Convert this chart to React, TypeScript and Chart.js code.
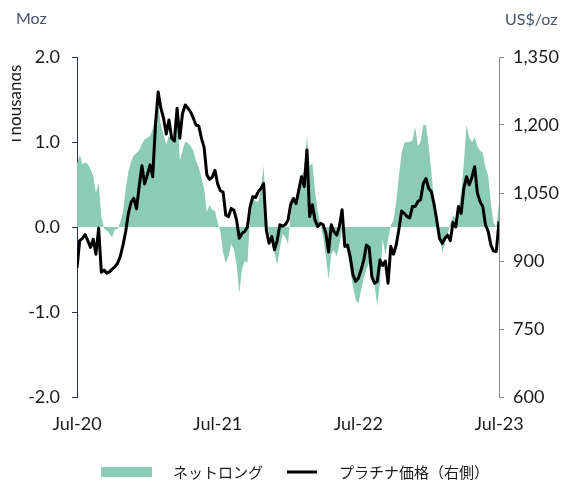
import { useEffect, useRef } from "react";
import { Chart, registerables } from "chart.js";

Chart.register(...registerables);

// Weekly observations, Jul-2020 .. Jul-2023 (week index 0..156)
const xTickLabels = ["Jul-20", "Jul-21", "Jul-22", "Jul-23"];
const xTickWeeks = [0, 52, 104, 156];

const seriesNames = ["ネットロング", "プラチナ価格（右側）"];
const leftUnit = "Moz";
const leftTitle = "Thousands";
const rightUnit = "US$/oz";

// Net long position (Moz), left axis
const netLong = [
  0.74, 0.85, 0.74, 0.76, 0.74, 0.68, 0.6, 0.4, 0.52, 0.12,
  -0.02, -0.04, -0.08, -0.12, -0.03, -0.02, 0.05, 0.18, 0.45, 0.65,
  0.77, 0.84, 0.87, 0.9, 0.98, 1.03, 1.05, 1.07, 1.15, 1.3,
  1.45, 1.2, 1.08, 0.97, 1.08, 1.02, 0.99, 1.4, 0.78, 0.9,
  1.0, 0.99, 0.95, 0.9, 0.78, 0.7, 0.58, 0.45, 0.18, 0.26,
  0.2, 0.19, 0.05, -0.05, -0.3, -0.42, -0.35, -0.2, -0.26, -0.45,
  -0.78, -0.5, -0.4, -0.42, 0.1, 0.35, 0.3, 0.3, 0.45, 0.72,
  0.1, -0.08, -0.18, -0.3, -0.45, -0.25, -0.08, -0.12, -0.2, 0.15,
  0.36, 0.32, 0.45, 0.6, 0.68, 1.07, 0.72, 0.75, 0.42, 0.18,
  0.02, -0.12, -0.35, -0.62, -0.32, -0.27, -0.35, -0.2, -0.03, -0.12,
  -0.3, -0.5, -0.7, -0.85, -0.9, -0.75, -0.6, -0.5, -0.42, -0.55,
  -0.68, -0.93, -0.65, -0.15, -0.32, -0.15, 0.02, 0.08, 0.3, 0.6,
  0.87, 0.99, 1.0, 1.0, 1.02, 1.18, 0.95, 1.0, 1.2, 1.2,
  0.95, 0.65, 0.3, 0.1, -0.05, -0.3, -0.2, -0.1, 0.05, 0.13,
  0.1, 0.2, 0.4, 0.75, 1.2, 1.05, 1.0, 1.06, 0.95, 0.9,
  0.87, 0.7, 0.6, 0.28, 0.05, 0.0, 0.28,
];

// Platinum price (US$/oz), right axis
const platinumPrice = [
  885, 945, 950, 958, 945, 930, 948, 915, 972, 875,
  880, 873, 876, 882, 887, 895, 910, 935, 965, 1005,
  1030, 1038, 1015, 1065, 1110, 1070, 1090, 1112, 1086, 1200,
  1273, 1237, 1215, 1180, 1211, 1171, 1165, 1237, 1171, 1225,
  1244, 1237, 1229, 1215, 1200, 1198, 1171, 1150, 1090, 1080,
  1085, 1100, 1070, 1055, 1052, 1001, 998, 1016, 1012, 990,
  950, 961, 965, 975, 1020, 1042, 1040, 1053, 1060, 1071,
  968, 939, 954, 925, 945, 980, 977, 980, 990, 1025,
  1038, 1027, 1057, 1086, 1064, 1145, 998, 1024, 990, 976,
  983, 980, 961, 920, 980, 965, 957, 976, 1013, 932,
  935, 909, 870, 855, 862, 880, 902, 935, 930, 865,
  851, 855, 902, 890, 900, 851, 932, 915, 935, 970,
  1010, 1005, 998, 995, 1020, 1020, 1031, 1035, 1071, 1082,
  1060, 1053, 1025, 990, 950, 939, 950, 957, 945, 985,
  975, 1020, 1005, 1060, 1086, 1068, 1085, 1108, 1050, 1031,
  1020, 980, 965, 935, 922, 921, 987,
];

const GREEN = "#8ccbb5";
const TICK_FONT = { family: "Lato", size: 18 };

const overlayPlugin = {
  id: "overlayTexts",
  afterDraw(chart: any) {
    const ctx = chart.ctx as CanvasRenderingContext2D;
    ctx.save();
    ctx.textBaseline = "middle";
    ctx.textAlign = "left";
    ctx.font = "16px Lato";
    ctx.fillStyle = "#44546a";
    ctx.fillText(leftUnit, 16, 19);
    ctx.fillText(rightUnit, 505, 20);

    // clipped, rotated left-axis title
    ctx.save();
    ctx.beginPath();
    ctx.rect(12, 0, 30, 482);
    ctx.clip();
    ctx.translate(21, 105);
    ctx.rotate(-Math.PI / 2);
    ctx.textAlign = "center";
    ctx.textBaseline = "alphabetic";
    ctx.font = "17px Lato";
    ctx.fillStyle = "#1a1a1a";
    ctx.fillText(leftTitle, 0, 0);
    ctx.restore();

    // legend
    const ds = chart.data.datasets;
    const area = ds.find((d: any) => d.yAxisID === "y");
    const line = ds.find((d: any) => d.yAxisID === "y1");
    const ly = 472;
    ctx.font = '15px "Noto Sans CJK JP"';
    ctx.fillStyle = area.backgroundColor;
    ctx.fillRect(101, 467, 51, 10);
    ctx.fillStyle = "#1a1a1a";
    ctx.textBaseline = "middle";
    ctx.fillText(area.label, 173, ly);
    ctx.strokeStyle = line.borderColor;
    ctx.lineWidth = 3;
    ctx.beginPath();
    ctx.moveTo(287, ly);
    ctx.lineTo(317, ly);
    ctx.stroke();
    ctx.fillText(line.label, 339, ly);
    ctx.restore();
  },
};

export default function App() {
  const ref = useRef<HTMLCanvasElement | null>(null);

  useEffect(() => {
    if (!ref.current) return;
    const chart = new Chart(ref.current, {
      type: "line",
      data: {
        datasets: [
          {
            label: seriesNames[1],
            data: platinumPrice.map((v, i) => ({ x: i, y: v })),
            yAxisID: "y1",
            borderColor: "#000000",
            borderWidth: 3,
            pointRadius: 0,
            tension: 0,
            fill: false,
            borderJoinStyle: "round",
            order: 0,
          },
          {
            label: seriesNames[0],
            data: netLong.map((v, i) => ({ x: i, y: v })),
            yAxisID: "y",
            backgroundColor: GREEN,
            borderWidth: 0,
            borderColor: "rgba(0,0,0,0)",
            pointRadius: 0,
            tension: 0,
            fill: "origin",
            order: 1,
          },
        ],
      },
      options: {
        animation: false,
        responsive: false,
        devicePixelRatio: 1,
        layout: { padding: { top: 57, left: 0, right: 0, bottom: 0 } },
        plugins: {
          legend: { display: false },
          tooltip: { enabled: false },
        },
        scales: {
          x: {
            type: "linear",
            min: 0,
            max: 156,
            afterBuildTicks: (scale: any) => {
              scale.ticks = xTickWeeks.map((v) => ({ value: v }));
            },
            afterFit: (scale: any) => {
              scale.height = 85;
            },
            grid: { display: false, drawTicks: false },
            border: { display: false },
            ticks: {
              autoSkip: false,
              maxRotation: 0,
              padding: 16,
              font: TICK_FONT,
              color: "#1a1a1a",
              callback: (v: any) => {
                const k = xTickWeeks.indexOf(Number(v));
                return k >= 0 ? xTickLabels[k] : "";
              },
            },
          },
          y: {
            type: "linear",
            position: "left",
            min: -2,
            max: 2,
            afterFit: (scale: any) => {
              scale.width = 77;
            },
            grid: {
              display: true,
              drawOnChartArea: false,
              drawTicks: true,
              tickLength: 5,
              color: "#263248",
            },
            border: { display: true, color: "#263248", width: 1 },
            ticks: {
              stepSize: 1,
              padding: 12,
              font: TICK_FONT,
              color: "#1a1a1a",
              callback: (v: any) => Number(v).toFixed(1),
            },
          },
          y1: {
            type: "linear",
            position: "right",
            min: 600,
            max: 1350,
            afterFit: (scale: any) => {
              scale.width = 64;
            },
            grid: {
              display: true,
              drawOnChartArea: false,
              drawTicks: true,
              tickLength: 5,
              color: "#8a8a8a",
            },
            border: { display: true, color: "#8a8a8a", width: 1 },
            ticks: {
              stepSize: 150,
              padding: 9,
              font: TICK_FONT,
              color: "#1a1a1a",
              callback: (v: any) => Number(v).toLocaleString("en-US"),
            },
          },
        },
      },
      plugins: [overlayPlugin],
    } as any);
    return () => chart.destroy();
  }, []);

  return (
    <div style={{ position: "absolute", left: 0, top: 0, width: 563, height: 482, background: "#fff" }}>
      <canvas ref={ref} width={563} height={482} style={{ display: "block" }} />
    </div>
  );
}
